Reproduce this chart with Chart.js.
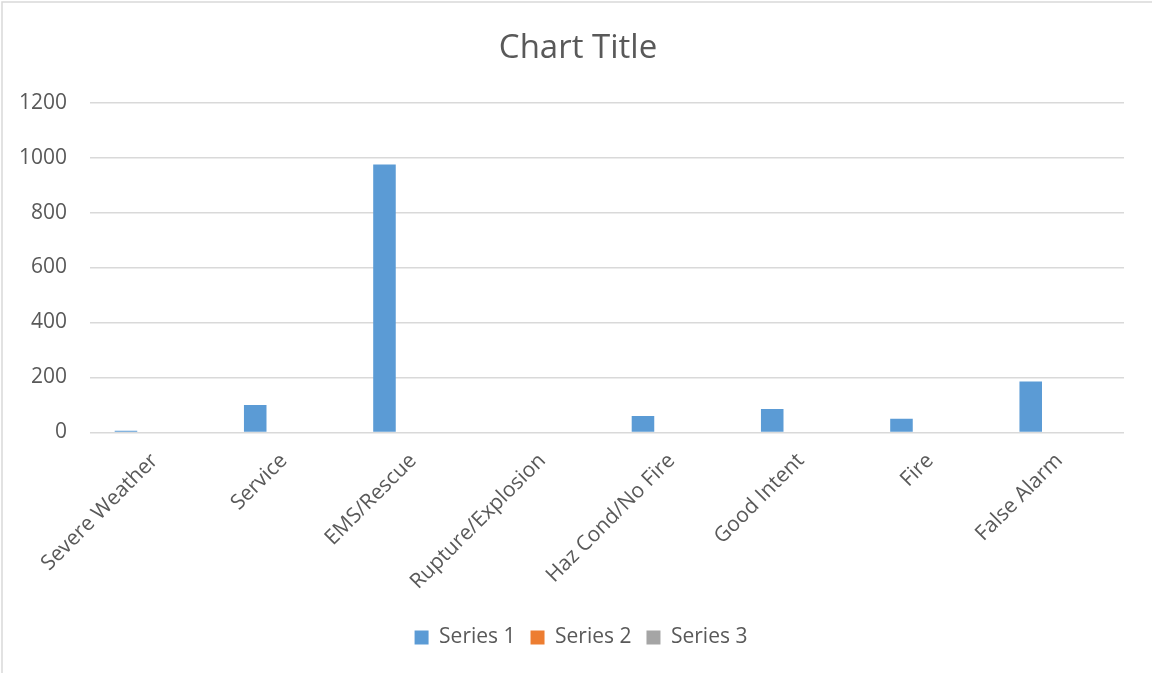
<!DOCTYPE html>
<html>
<head>
<meta charset="utf-8">
<title>Chart Title</title>
<script src="https://cdn.jsdelivr.net/npm/chart.js@4.4.1/dist/chart.umd.min.js"></script>
<style>
  html, body { margin: 0; padding: 0; background: #fff; }
  #chartContainer { position: relative; width: 1152px; height: 673px; }
</style>
</head>
<body>
<div id="chartContainer">
  <canvas id="incidentChart" width="1152" height="673"></canvas>
</div>
<script>
const categories = ['Severe Weather', 'Service', 'EMS/Rescue', 'Rupture/Explosion', 'Haz Cond/No Fire', 'Good Intent', 'Fire', 'False Alarm'];
const series1 = [6, 100, 975, 2, 60, 85, 50, 185];
const series2 = [0, 0, 0, 0, 0, 0, 0, 0];
const series3 = [0, 0, 0, 0, 0, 0, 0, 0];
const seriesNames = ['Series 1', 'Series 2', 'Series 3'];
const seriesColors = ['#5B9BD5', '#ED7D31', '#A5A5A5'];
const yTicks = [0, 200, 400, 600, 800, 1000, 1200];

const textColor = '#595959';
const gridColor = '#d9d9d9';
const fontFamily = "'Open Sans', 'Noto Sans', sans-serif";

// the picture is a crop of a wider chart: only its top and left frame show,
// and title + legend sit a little right of the canvas middle
const chartFrame = {
  id: 'chartFrame',
  afterLayout(chart) {
    if (chart.titleBlock) {
      chart.titleBlock.left += 7;
      chart.titleBlock.right += 7;
    }
    if (chart.legend) {
      chart.legend.left += 10;
      chart.legend.right += 10;
    }
  },
  afterDraw(chart) {
    const ctx = chart.ctx;
    ctx.save();
    ctx.strokeStyle = gridColor;
    ctx.lineWidth = 1.5;
    ctx.beginPath();
    ctx.moveTo(2, chart.height);
    ctx.lineTo(2, 2);
    ctx.lineTo(chart.width, 2);
    ctx.stroke();
    ctx.restore();
  }
};

const ctx = document.getElementById("incidentChart").getContext("2d");

const chart = new Chart(ctx, {
  type: 'bar',
  data: {
    labels: categories,
    datasets: [series1, series2, series3].map((vals, i) => ({
      label: seriesNames[i],
      data: vals,
      backgroundColor: seriesColors[i],
      borderWidth: 0,
      categoryPercentage: 0.665,
      barPercentage: 0.787
    }))
  },
  options: {
    responsive: false,
    animation: false,
    layout: {
      padding: { left: 18, right: 28, top: 18, bottom: 15 }
    },
    plugins: {
      title: {
        display: true,
        text: 'Chart Title',
        color: textColor,
        font: { family: fontFamily, size: 33, weight: 'normal' },
        padding: { top: 11, bottom: 34 }
      },
      legend: {
        position: 'bottom',
        labels: {
          color: textColor,
          font: { family: fontFamily, size: 21 },
          boxWidth: 14,
          boxHeight: 14,
          padding: 15
        }
      },
      tooltip: { enabled: false }
    },
    scales: {
      x: {
        grid: { display: false },
        border: { display: false },
        // rotated labels may hang past the plot's left edge, as in the original
        afterFit: axis => {
          axis.paddingLeft = 0;
          axis.paddingRight = 0;
          axis.height += 9.5;
        },
        ticks: {
          color: textColor,
          font: { family: fontFamily, size: 21 },
          minRotation: 45,
          maxRotation: 45,
          padding: 8
        }
      },
      y: {
        min: 0,
        max: 1200,
        afterBuildTicks: axis => {
          axis.ticks = yTicks.map(v => ({ value: v }));
        },
        afterFit: axis => {
          axis.width = 72;
        },
        grid: { color: gridColor, lineWidth: 1.5, drawTicks: false },
        border: { display: false },
        ticks: {
          color: textColor,
          font: { family: fontFamily, size: 21 },
          padding: 23,
          callback: value => String(value)
        }
      }
    }
  },
  plugins: [chartFrame]
});
</script>
</body>
</html>
